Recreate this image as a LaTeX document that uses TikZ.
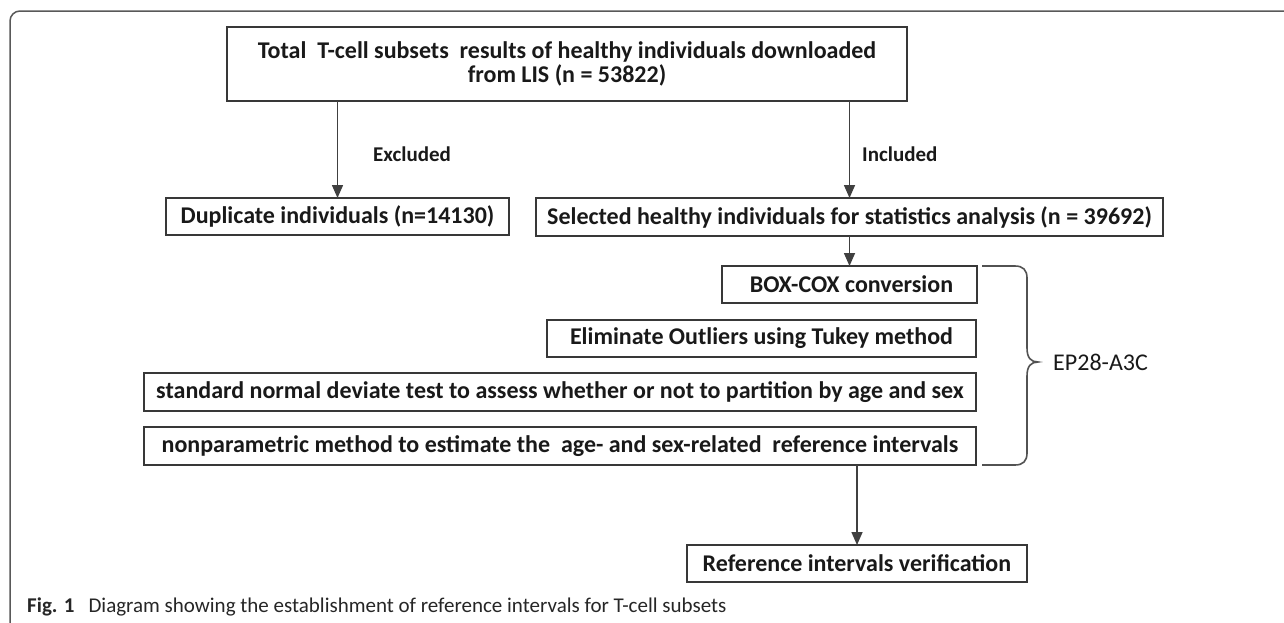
\documentclass[tikz,border=0pt]{standalone}
\usepackage{fontspec}
\setmainfont{Carlito}
\usetikzlibrary{arrows.meta}
\begin{document}
\begin{tikzpicture}[x=1pt,y=-1pt,
  boxst/.style={draw=black!78, line width=1.6pt, inner sep=0pt, outer sep=0pt,
    font=\fontsize{24}{24}\selectfont\bfseries, text=black!90, align=center},
  conn/.style={draw=black!75, line width=1.5pt, -{Triangle[length=13pt,width=11pt]}},
  lab/.style={font=\fontsize{21}{25}\selectfont\bfseries, text=black!90, inner sep=0pt, anchor=west},
  bracest/.style={draw=black!68, line width=1.6pt},
  framest/.style={draw=black!65, line width=1.5pt, rounded corners=10pt}
]
\useasboundingbox (0,0) rectangle (1284,622);
\fill[white] (0,0) rectangle (1284,622);
\draw[framest] (1290,11) -- (10,11) -- (10,630);

\node[boxst, minimum width=680pt, minimum height=74pt] (top) at (567,64)
  {Total~ T-cell subsets~ results of healthy individuals downloaded\\ from LIS (n = 53822)};
\node[boxst, minimum width=343pt, minimum height=37pt] (dup) at (337.5,216.5) {Duplicate individuals (n=14130)};
\node[boxst, minimum width=627pt, minimum height=38pt] (sel) at (849.5,217) {Selected healthy individuals for statistics analysis (n = 39692)};
\node[boxst, minimum width=255pt, minimum height=37pt] (boxcox) at (849.5,284.5) {\hspace*{4pt}BOX-COX conversion};
\node[boxst, minimum width=429pt, minimum height=37pt] (elim) at (761.5,338.5) {Eliminate Outliers using Tukey method};
\node[boxst, minimum width=832pt, minimum height=38pt] (snd) at (560,392) {standard normal deviate test to assess whether or not to partition by age and sex};
\node[boxst, minimum width=832pt, minimum height=38pt] (nonp) at (560,446) {nonparametric method to estimate the~ age- and sex-related~ reference intervals};
\node[boxst, minimum width=340pt, minimum height=37pt] (ref) at (857,563.5) {Reference intervals verification};

\draw[conn] (top.south -| dup.north) -- (dup.north);
\draw[conn] (top.south -| sel.north) -- (sel.north);
\draw[conn] (sel.south) -- (boxcox.north);
\draw[conn] (nonp.south -| ref.north) -- (ref.north);

\node[lab] (exc) at (373,154) {Excluded};
\node[lab] (inc) at (862,154) {Included};

\draw[bracest] (982,266) -- (1015,266) .. controls (1023,266) and (1027,270) .. (1027,278)
  -- (1027,348) .. controls (1027,358) and (1031,362) .. (1038,362)
  .. controls (1031,362) and (1027,366) .. (1027,376)
  -- (1027,453) .. controls (1027,461) and (1023,465) .. (1015,465) -- (982,465);
\node[anchor=west, inner sep=0pt, font=\fontsize{24}{28}\selectfont, text=black!90] (ep) at (1053,362) {EP28-A3C};

\node[anchor=base west, inner sep=0pt, font=\fontsize{21}{25}\selectfont, text=black!85] (cap) at (27,612)
  {\textbf{Fig. 1}\hspace{14pt}Diagram showing the establishment of reference intervals for T-cell subsets};
\end{tikzpicture}
\end{document}
